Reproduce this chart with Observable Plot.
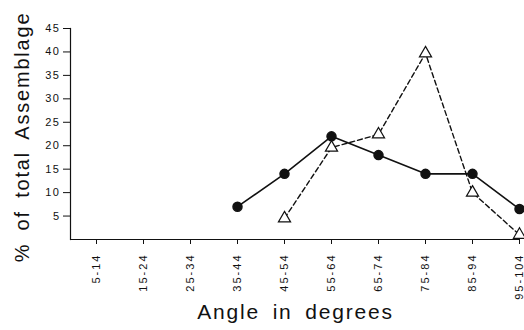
<!DOCTYPE html>
<html>
<head>
<meta charset="utf-8">
<script src="https://cdn.jsdelivr.net/npm/d3@7"></script>
<script src="https://cdn.jsdelivr.net/npm/@observablehq/plot@0.6"></script>
<style>
  html, body { margin: 0; padding: 0; background: #fff; }
  svg { font-family: "Liberation Sans", Arial, sans-serif; }
</style>
</head>
<body>
<div id="chart"></div>
<script>
const categories = ["5-14","15-24","25-34","35-44","45-54","55-64","65-74","75-84","85-94","95-104"];
const circleCats = ["35-44","45-54","55-64","65-74","75-84","85-94","95-104"];
const circleValues = [7, 14, 22, 18, 14, 14, 6.5];
const triangleCats = ["45-54","55-64","65-74","75-84","85-94","95-104"];
const triangleValues = [4.5, 19.6, 22.4, 39.7, 10, 1];
const yTicks = [5, 10, 15, 20, 25, 30, 35, 40, 45];
const yLabel = "% of total Assemblage";
const xLabel = "Angle in degrees";

const circles = circleCats.map((c, i) => ({cat: c, v: circleValues[i]}));
const triangles = triangleCats.map((c, i) => ({cat: c, v: triangleValues[i]}));

const chart = Plot.plot({
  width: 524,
  height: 330,
  marginLeft: 70,
  marginRight: 4,
  marginTop: 28,
  marginBottom: 91,
  style: {fontFamily: '"Liberation Sans", Arial, sans-serif', background: "#fff", color: "#111"},
  x: {type: "point", domain: categories, range: [93, 521], padding: 0},
  y: {domain: [0, 45]},
  marks: [
    Plot.axisY({ticks: yTicks, tickSize: 7, tickPadding: 3, fontSize: 11, label: null}),
    Plot.axisX({tickSize: 5, tickPadding: 9, tickRotate: -90, fontSize: 11, label: null}),
    Plot.ruleY([0], {stroke: "#111", strokeWidth: 1.2}),
    Plot.frame({anchor: "left", stroke: "#111", strokeWidth: 1.2}),
    Plot.line(circles, {x: "cat", y: "v", stroke: "#111", strokeWidth: 1.6}),
    Plot.line(triangles, {x: "cat", y: "v", stroke: "#111", strokeWidth: 1.4, strokeDasharray: "5,3"}),
    Plot.dot(circles, {x: "cat", y: "v", r: 4.5, fill: "#111", stroke: "#111"}),
    Plot.dot(triangles, {x: "cat", y: "v", symbol: "triangle", r: 4.5, fill: "white", stroke: "#111", strokeWidth: 1.2}),
    Plot.text([yLabel], {text: d => d, frameAnchor: "left", textAnchor: "middle", rotate: -90, dx: -48, dy: 3, fontSize: 20, fill: "#111"}),
    Plot.text([xLabel], {text: d => d, frameAnchor: "bottom", textAnchor: "middle", dy: 79, fontSize: 21, fill: "#111"})
  ]
});
const s = d3.select(chart);
s.selectAll("[aria-label='y-axis tick label'] text").style("letter-spacing", "1.5px");
s.selectAll("[aria-label='x-axis tick label'] text").style("letter-spacing", "2px");
s.selectAll("[aria-label='text'] text").style("letter-spacing", "1.8px").style("word-spacing", "5px");
document.getElementById("chart").appendChild(chart);
</script>
</body>
</html>
